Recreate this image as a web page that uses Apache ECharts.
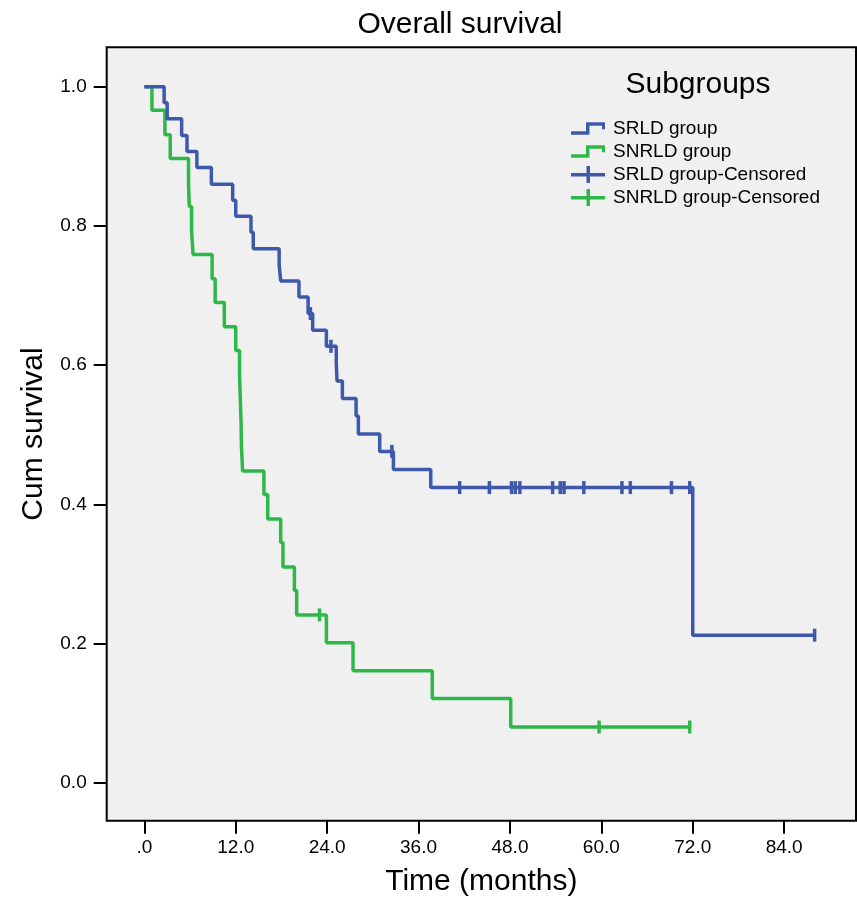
<!DOCTYPE html>
<html>
<head>
<meta charset="utf-8">
<title>Overall survival</title>
<script src="https://cdn.jsdelivr.net/npm/echarts/dist/echarts.min.js"></script>
<style>
  html, body { margin: 0; padding: 0; background: #fff; }
  #main { width: 857px; height: 904px; }
</style>
</head>
<body>
<div id="main"></div>
<script>
// step points (time in months, cum survival)
var srldTime = [0, 2.6, 3.0, 4.9, 5.6, 6.9, 8.8, 11.6, 12.0, 14.0, 14.3, 17.7, 17.9, 20.3, 21.5, 22.1, 23.9, 25.2, 25.3, 26.0, 27.8, 28.1, 30.9, 32.7, 37.6, 72.0, 88.0];
var srldSurv = [1.0, 0.977, 0.954, 0.930, 0.907, 0.884, 0.860, 0.837, 0.814, 0.791, 0.767, 0.744, 0.721, 0.698, 0.674, 0.650, 0.627, 0.602, 0.577, 0.552, 0.527, 0.501, 0.476, 0.450, 0.424, 0.212, 0.212];

var snrldTime = [0, 1.0, 2.7, 3.4, 5.8, 5.9, 6.2, 6.4, 8.9, 9.3, 10.5, 12.0, 12.5, 12.6, 12.7, 12.75, 12.9, 15.7, 16.2, 17.9, 18.2, 19.7, 20.0, 23.9, 27.4, 37.8, 48.1, 71.6];
var snrldSurv = [1.0, 0.966, 0.931, 0.897, 0.862, 0.828, 0.793, 0.759, 0.724, 0.690, 0.655, 0.621, 0.586, 0.552, 0.517, 0.483, 0.448, 0.414, 0.379, 0.345, 0.310, 0.276, 0.241, 0.201, 0.161, 0.121, 0.080, 0.080];

// censored cases
var srldCensTime = [21.8, 24.5, 32.5, 41.4, 45.3, 48.2, 48.7, 49.3, 53.6, 54.6, 55.1, 57.7, 62.7, 63.8, 69.2, 71.6, 88.0];
var srldCensSurv = [0.674, 0.627, 0.476, 0.424, 0.424, 0.424, 0.424, 0.424, 0.424, 0.424, 0.424, 0.424, 0.424, 0.424, 0.424, 0.424, 0.212];
var snrldCensTime = [23.0, 59.7, 71.6];
var snrldCensSurv = [0.241, 0.080, 0.080];

var xTicks = [0, 12, 24, 36, 48, 60, 72, 84];
var yTicks = [0, 0.2, 0.4, 0.6, 0.8, 1.0];
var seriesNames = ["SRLD group", "SNRLD group", "SRLD group-Censored", "SNRLD group-Censored"];

var blue = "#3E58AC";
var green = "#2EB848";
var font = "'Liberation Sans', Arial, sans-serif";

function pairs(xs, ys) {
  var out = [];
  for (var i = 0; i < xs.length; i++) out.push([xs[i], ys[i]]);
  return out;
}

var stepIcon = "path://M0,9 L15,9 L15,0 L34,0 L34,7 L31,7 L31,3.5 L18.5,3.5 L18.5,12.5 L0,12.5 Z";
var plusIcon = "path://M0,7 L15.5,7 L15.5,0 L19,0 L19,7 L34,7 L34,10.5 L19,10.5 L19,17 L15.5,17 L15.5,10.5 L0,10.5 Z";

var chart = echarts.init(document.getElementById("main"));
chart.setOption({
  animation: false,
  backgroundColor: "#ffffff",
  textStyle: { fontFamily: font },
  grid: {
    left: 106.7, top: 47.3, right: 1, bottom: 83.3,
    show: true,
    backgroundColor: "#F0F0F0",
    borderColor: "#000",
    borderWidth: 2
  },
  graphic: [
    { type: "text", x: 460, y: 25,
      style: { text: "Overall survival", fontSize: 30, fontFamily: font, fill: "#000", align: "center", verticalAlign: "middle" } },
    { type: "text", x: 698, y: 85,
      style: { text: "Subgroups", fontSize: 30, fontFamily: font, fill: "#000", align: "center", verticalAlign: "middle" } }
  ],
  legend: {
    orient: "vertical",
    left: 566,
    top: 114,
    itemWidth: 34,
    itemHeight: 17,
    itemGap: 4,
    symbolKeepAspect: true,
    itemStyle: { borderWidth: 0, opacity: 1 },
    textStyle: { fontSize: 19, color: "#000", fontFamily: font, padding: [0, 0, 0, 3] },
    data: [
      { name: seriesNames[0], icon: stepIcon },
      { name: seriesNames[1], icon: stepIcon },
      { name: seriesNames[2], icon: plusIcon },
      { name: seriesNames[3], icon: plusIcon }
    ]
  },
  xAxis: {
    type: "value",
    min: -4.94,
    max: 93.43,
    name: "Time (months)",
    nameLocation: "middle",
    nameGap: 46,
    nameTextStyle: { fontSize: 30, color: "#000", fontFamily: font },
    splitLine: { show: false },
    axisLine: { show: false, onZero: false },
    axisTick: { show: true, length: 13, lineStyle: { color: "#000", width: 2 }, customValues: xTicks },
    axisLabel: {
      fontSize: 19, color: "#000", margin: 18, customValues: xTicks,
      formatter: function (v) { return v === 0 ? ".0" : v.toFixed(1); }
    }
  },
  yAxis: {
    type: "value",
    min: -0.0546,
    max: 1.0566,
    name: "Cum survival",
    nameLocation: "middle",
    nameRotate: 90,
    nameGap: 58,
    nameTextStyle: { fontSize: 30, color: "#000", fontFamily: font },
    splitLine: { show: false },
    axisLine: { show: false, onZero: false },
    axisTick: { show: true, length: 13, lineStyle: { color: "#000", width: 2 }, customValues: yTicks },
    axisLabel: {
      fontSize: 19, color: "#000", margin: 20, customValues: yTicks,
      formatter: function (v) { return v.toFixed(1); }
    }
  },
  series: [
    {
      name: seriesNames[0], type: "line", step: "end",
      data: pairs(srldTime, srldSurv),
      showSymbol: false, color: blue,
      lineStyle: { width: 3.5, color: blue }, z: 3
    },
    {
      name: seriesNames[1], type: "line", step: "end",
      data: pairs(snrldTime, snrldSurv),
      showSymbol: false, color: green,
      lineStyle: { width: 3.5, color: green }, z: 2
    },
    {
      name: seriesNames[2], type: "scatter",
      data: pairs(srldCensTime, srldCensSurv),
      symbol: "rect", symbolSize: [3.5, 13], color: blue,
      itemStyle: { color: blue, opacity: 1 }, z: 4
    },
    {
      name: seriesNames[3], type: "scatter",
      data: pairs(snrldCensTime, snrldCensSurv),
      symbol: "rect", symbolSize: [3.5, 13], color: green,
      itemStyle: { color: green, opacity: 1 }, z: 4
    }
  ]
});
</script>
</body>
</html>
